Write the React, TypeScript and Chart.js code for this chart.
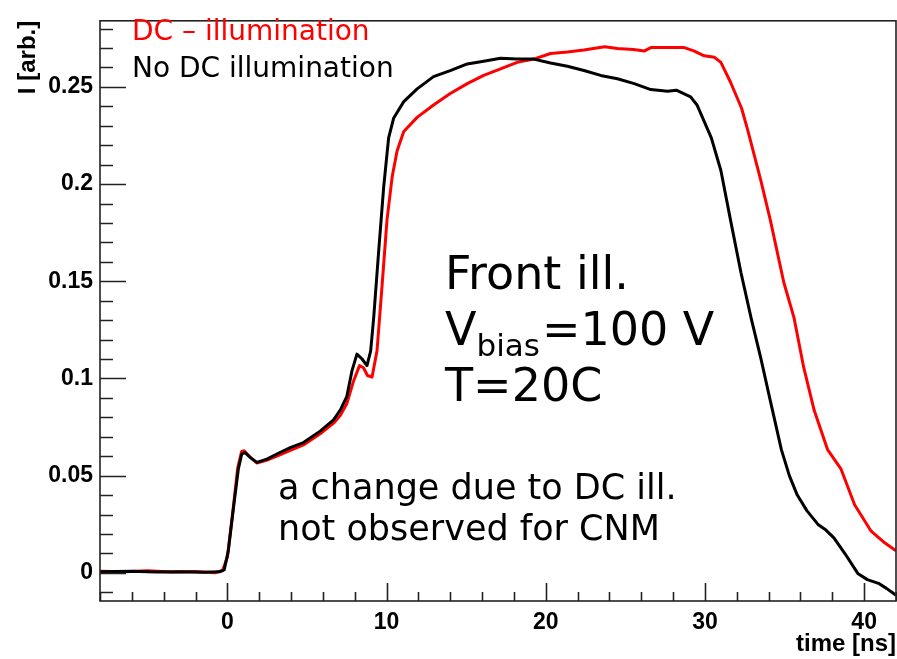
import React, { useEffect, useRef } from "react";
import { Chart, registerables } from "chart.js";

Chart.register(...registerables);

// ---- data (time in ns, current in arbitrary units) ----
const blackTime = [
  -8, -6, -4.5, -3, -1.5, -0.5, -0.2, 0.06, 0.38, 0.69, 0.9, 1.1, 1.43, 1.85, 2.48, 3.3, 3.95, 4.78, 5.83,
  6.67, 7.1, 7.5, 7.83, 8.14, 8.46, 8.77, 9.0, 9.19, 9.5, 9.82, 10.13, 10.45, 11.08, 11.92, 12.95, 14.0,
  15.07, 16.1, 17.16, 18.2, 19.25, 20.3, 21.36, 22.4, 23.45, 24.5, 25.56, 26.6, 27.65, 28.2, 29.1, 29.5,
  29.95, 30.4, 31.0, 31.6, 32.26, 32.9, 33.5, 34.1, 34.8, 35.3, 35.8, 36.4, 37.1, 37.6, 38.1, 38.8, 39.6,
  40.2, 40.9, 41.4, 42,
];
const blackCurrent = [
  0.0005, 0.0008, 0.0004, 0.0006, 0.0003, 0.0005, 0.0015, 0.0113, 0.0332, 0.0534, 0.061, 0.0619, 0.0594,
  0.0568, 0.0585, 0.0619, 0.0644, 0.067, 0.0729, 0.0787, 0.0838, 0.0906, 0.104, 0.1125, 0.11, 0.1066,
  0.114, 0.131, 0.165, 0.1985, 0.2238, 0.234, 0.2424, 0.249, 0.2553, 0.2584, 0.2618, 0.2632, 0.2647,
  0.2643, 0.2643, 0.2623, 0.2606, 0.2584, 0.2559, 0.2542, 0.2517, 0.2486, 0.2478, 0.2483, 0.2449, 0.2407,
  0.2323, 0.2238, 0.207, 0.1817, 0.1545, 0.131, 0.1107, 0.0887, 0.0634, 0.05, 0.04, 0.032, 0.0249, 0.022,
  0.018, 0.0098, -0.0003, -0.0035, -0.0054, -0.008, -0.0115,
];
const redTime = [
  -8, -6.5, -5, -3.5, -2, -0.8, -0.3, 0.0, 0.35, 0.65, 0.9, 1.05, 1.4, 1.85, 2.5, 3.3, 3.95, 4.78, 5.83,
  6.67, 7.1, 7.5, 7.9, 8.3, 8.55, 8.8, 9.09, 9.4, 9.72, 10.03, 10.35, 10.66, 11.08, 11.92, 12.95, 14.0,
  15.07, 16.1, 17.16, 18.2, 19.25, 20.3, 21.36, 22.4, 23.7, 24.5, 25.5, 26.2, 26.6, 28.7, 29.3, 29.95,
  30.6, 31.0, 31.6, 32.3, 32.7, 33.5, 34.1, 34.95, 35.6, 36.2, 36.86, 37.7, 38.55, 39.4, 40.44, 41.2, 42.0,
];
const redCurrent = [
  0.0008, 0.0005, 0.001, 0.0004, 0.0007, 0.0, 0.0012, 0.008, 0.032, 0.054, 0.0625, 0.0628, 0.0598, 0.0565,
  0.058, 0.0607, 0.063, 0.0658, 0.0715, 0.077, 0.081, 0.087, 0.098, 0.1066, 0.1055, 0.1015, 0.1007, 0.1142,
  0.148, 0.1817, 0.2036, 0.217, 0.227, 0.2343, 0.2407, 0.2466, 0.2517, 0.2559, 0.2593, 0.2626, 0.2643,
  0.2672, 0.268, 0.269, 0.2707, 0.2697, 0.2692, 0.2685, 0.2702, 0.2702, 0.2685, 0.266, 0.2652, 0.2626,
  0.2525, 0.239, 0.2274, 0.2021, 0.1817, 0.1495, 0.131, 0.1058, 0.0836, 0.0634, 0.0533, 0.035, 0.0214,
  0.016, 0.0113,
];

const xMajorTicks = [0, 10, 20, 30, 40];
const yMajorTicks = [0, 0.05, 0.1, 0.15, 0.2, 0.25];
const xMinorStep = 2;
const yMinorStep = 0.01;
const xRange = [-8, 42];
const yRange = [-0.0145, 0.284];

const seriesNames = ["No DC illumination", "DC – illumination"];
const seriesColors = ["#000000", "#ff0000"];
const xTitle = "time [ns]";
const yTitle = "I [arb.]";
const noteLines = ["a change due to DC ill.", "not observed for CNM"];
const condLine1 = "Front ill.";
const condV = ["V", "bias", "=100 V"];
const condLine3 = "T=20C";

const tickFont = { family: "'Liberation Sans', Arial, sans-serif", weight: "bold" as const, size: 23 };
const textFamily = "'DejaVu Sans', sans-serif";

function toPoints(ts: number[], vs: number[]) {
  return ts.map((t, i) => ({ x: t, y: vs[i] }));
}

export default function App() {
  const ref = useRef<HTMLCanvasElement>(null);

  useEffect(() => {
    const canvas = ref.current;
    if (!canvas) return;

    const framePlugin = {
      id: "frameTicks",
      afterDatasetsDraw(chart: any) {
        const { ctx, chartArea: a } = chart;
        const x = chart.scales.x;
        const y = chart.scales.y;
        ctx.save();
        ctx.strokeStyle = "#222";
        ctx.lineWidth = 1.6;
        ctx.beginPath();
        for (let k = Math.ceil(x.min / xMinorStep); k * xMinorStep <= x.max + 1e-9; k++) {
          const v = k * xMinorStep;
          const px = Math.round(x.getPixelForValue(v)) + 0.5;
          const major = xMajorTicks.some((m) => Math.abs(m - v) < 1e-9);
          const len = major ? 18 : 9;
          ctx.moveTo(px, a.bottom);
          ctx.lineTo(px, a.bottom - len);
        }
        for (let k = Math.ceil(y.min / yMinorStep - 1e-9); k * yMinorStep <= y.max + 1e-9; k++) {
          const v = k * yMinorStep;
          const py = Math.round(y.getPixelForValue(v)) + 0.5;
          const major = yMajorTicks.some((m) => Math.abs(m - v) < 1e-9);
          const len = major ? 26 : 13;
          ctx.moveTo(a.left, py);
          ctx.lineTo(a.left + len, py);
        }
        ctx.stroke();
        ctx.strokeRect(a.left, a.top, a.right - a.left, a.bottom - a.top);
        ctx.restore();
      },
      afterDraw(chart: any) {
        const { ctx } = chart;
        ctx.save();
        ctx.textBaseline = "alphabetic";
        ctx.textAlign = "left";
        // legend texts
        ctx.font = `28px ${textFamily}`;
        ctx.fillStyle = seriesColors[1];
        ctx.fillText(seriesNames[1], 132, 40);
        ctx.fillStyle = seriesColors[0];
        ctx.fillText(seriesNames[0], 132, 77);
        // conditions
        ctx.fillStyle = "#000";
        ctx.font = `46px ${textFamily}`;
        ctx.fillText(condLine1, 445, 289);
        ctx.fillText(condV[0], 445, 345);
        let cx = 445 + ctx.measureText(condV[0]).width;
        ctx.font = `31px ${textFamily}`;
        ctx.fillText(condV[1], cx, 356);
        cx += ctx.measureText(condV[1]).width + 2;
        ctx.font = `46px ${textFamily}`;
        ctx.fillText(condV[2], cx, 345);
        ctx.fillText(condLine3, 445, 401);
        // note
        ctx.font = `35px ${textFamily}`;
        ctx.fillText(noteLines[0], 278, 499);
        ctx.fillText(noteLines[1], 278, 540);
        ctx.restore();
      },
    };

    const chart = new Chart(canvas, {
      type: "line",
      data: {
        datasets: [
          {
            label: seriesNames[0],
            data: toPoints(blackTime, blackCurrent),
            borderColor: seriesColors[0],
            backgroundColor: seriesColors[0],
          },
          {
            label: seriesNames[1],
            data: toPoints(redTime, redCurrent),
            borderColor: seriesColors[1],
            backgroundColor: seriesColors[1],
          },
        ],
      },
      options: {
        responsive: false,
        animation: false,
        devicePixelRatio: 1,
        layout: { padding: { top: 11, right: 1, left: 0, bottom: 0 } },
        elements: {
          point: { radius: 0 },
          line: { tension: 0, borderWidth: 3, borderJoinStyle: "round" },
        },
        plugins: { legend: { display: false }, tooltip: { enabled: false } },
        scales: {
          x: {
            type: "linear",
            min: xRange[0],
            max: xRange[1],
            afterFit: (s: any) => {
              s.height = 58;
            },
            afterBuildTicks: (s: any) => {
              s.ticks = xMajorTicks.map((value) => ({ value }));
            },
            grid: { display: false, drawTicks: false },
            border: { display: false },
            ticks: {
              font: tickFont,
              color: "#000",
              padding: 8,
              maxRotation: 0,
              autoSkip: false,
              callback: (v: any) => String(v),
            },
            title: {
              display: true,
              text: xTitle,
              align: "end",
              color: "#000",
              font: { family: tickFont.family, weight: "bold", size: 24 },
              padding: { top: 0, bottom: 0 },
            },
          },
          y: {
            type: "linear",
            min: yRange[0],
            max: yRange[1],
            afterFit: (s: any) => {
              s.width = 100;
            },
            afterBuildTicks: (s: any) => {
              s.ticks = yMajorTicks.map((value) => ({ value }));
            },
            grid: { display: false, drawTicks: false },
            border: { display: false },
            ticks: {
              font: tickFont,
              color: "#000",
              padding: 7,
              autoSkip: false,
              callback: (v: any) => String(Number(Number(v).toFixed(2))),
            },
            title: {
              display: true,
              text: yTitle,
              align: "end",
              color: "#000",
              font: { family: tickFont.family, weight: "bold", size: 24 },
              padding: { top: 14, bottom: 0 },
            },
          },
        },
      },
      plugins: [framePlugin],
    } as any);

    return () => chart.destroy();
  }, []);

  return (
    <div style={{ position: "absolute", left: 0, top: 0, width: 897, height: 659, background: "#fff" }}>
      <canvas ref={ref} width={897} height={659} style={{ display: "block" }} />
    </div>
  );
}
